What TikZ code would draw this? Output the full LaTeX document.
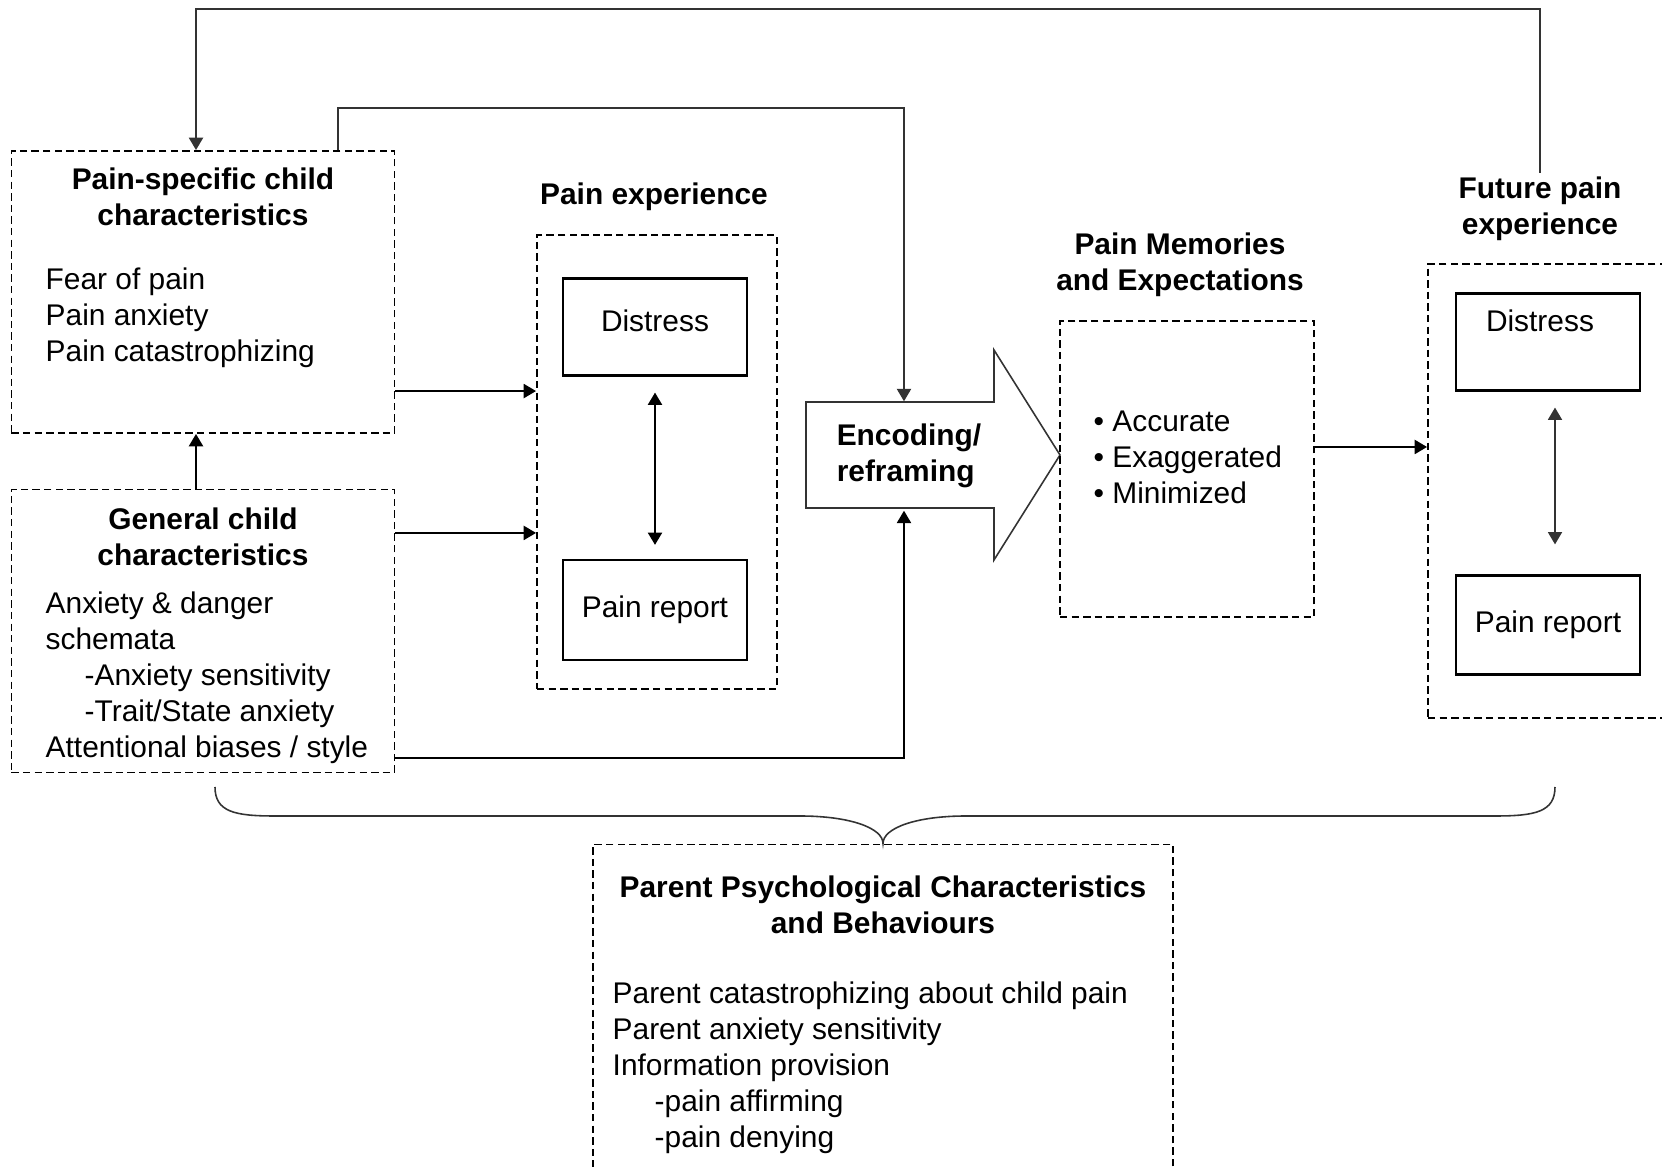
\documentclass[tikz,border=0pt]{standalone}
\usepackage{fontspec}
\setmainfont{Liberation Sans}
\usepackage{tikz}
\usetikzlibrary{arrows.meta}
\newcommand{\figfont}{\fontsize{8.5pt}{10.2pt}\selectfont}

\begin{document}
\begin{tikzpicture}[x=0.01cm, y=-0.01cm, line join=miter,
  dashbox/.style={draw, dash pattern=on 2.1pt off 1.2pt, line width=0.5pt, inner sep=0pt},
  solidbox/.style={draw, line width=0.6pt, inner sep=0pt, font=\figfont, minimum width=1.84cm},
  heading/.style={font={\figfont\bfseries}, align=center, inner sep=1pt},
  itemlist/.style={font=\figfont, align=left, inner sep=0pt, anchor=west},
  thinline/.style={line width=0.45pt, draw=black!80},
  arr/.style={-{Triangle[length=3.5pt,width=4pt]}, line width=0.5pt},
  dblarr/.style={{Triangle[length=3.5pt,width=4pt]}-{Triangle[length=3.5pt,width=4pt]}, line width=0.6pt}]

  \useasboundingbox (0,0) rectangle (1662,1167);
  \clip (0,0) rectangle (1662,1167);

  % Child characteristics (left column)
  \node[dashbox, minimum width=3.83cm, minimum height=2.82cm] (spec) at (203,292) {};
  \node[heading] (spectitle) at (203,197) {Pain-specific child\\characteristics};
  \node[itemlist] (specitems) at (45,318) {Fear of pain\\Pain anxiety\\Pain catastrophizing};

  \node[dashbox, minimum width=3.83cm, minimum height=2.83cm] (gen) at (203,631) {};
  \node[heading] (gentitle) at (203,537) {General child\\characteristics};
  \node[itemlist] (genitems) at (45,678) {Anxiety \& danger\\schemata\\\hspace*{0.39cm}-Anxiety sensitivity\\\hspace*{0.39cm}-Trait/State anxiety\\Attentional biases / style};

  % Pain experience
  \node[heading] (exptitle) at (654,197) {Pain experience};
  \node[dashbox, minimum width=2.40cm, minimum height=4.53cm] (exp) at (657,462) {};
  \node[solidbox, text height=0.535cm, text depth=0.435cm] (dis) at (655,327) {Distress};
  \node[solidbox, minimum height=1.00cm] (rep) at (655,610) {Pain report};

  % Encoding / reframing block arrow
  \draw[thinline] (806,402) -- (994,402) -- (994,350) -- (1060,455) -- (994,560) -- (994,508) -- (806,508) -- cycle;
  \node[heading, align=left, inner sep=0pt, minimum height=1.06cm] (enc) at (904,456) {\hspace*{0.1cm}Encoding/\\\hspace*{0.1cm}reframing};

  % Pain memories
  \node[heading] (memtitle) at (1180,265) {Pain Memories\\and Expectations};
  \node[dashbox, minimum width=2.54cm, minimum height=2.96cm] (mem) at (1187,469) {};
  \node[itemlist] (memitems) at (1093,457) {\textbullet\ Accurate\\\textbullet\ Exaggerated\\\textbullet\ Minimized};

  % Future pain experience
  \node[heading] (futtitle) at (1540,209) {Future pain\\experience};
  \node[dashbox, minimum width=2.52cm, minimum height=4.54cm] (fut) at (1554,491) {};
  \node[solidbox, text height=0.385cm, text depth=0.585cm] (fdis) at (1548,342) {Distress\hspace*{0.16cm}};
  \node[solidbox, minimum height=0.99cm] (frep) at (1548,625) {Pain report};

  % Parent characteristics
  \node[dashbox, minimum width=5.80cm, minimum height=3.45cm] (par) at (883,1017) {};
  \node[heading] (partitle) at (883,905) {Parent Psychological Characteristics\\and Behaviours};
  \node[itemlist] (paritems) at (612,1068) {Parent catastrophizing about child pain\\Parent anxiety sensitivity\\Information provision\\\hspace*{0.42cm}-pain affirming\\\hspace*{0.42cm}-pain denying};

  % Feedback loops over the top
  \coordinate (toploop) at (196,9);
  \coordinate (midloop) at (338,108);
  \draw[thinline, arr] (futtitle.north) |- (toploop) -- (toploop |- spec.north);
  \draw[thinline, arr] (midloop |- spec.north) -- (midloop) -| ([yshift=0.01cm]enc.north);

  % Arrows between boxes
  \draw[arr] ([xshift=-0.07cm]gen.north) -- ([xshift=-0.07cm]spec.south);
  \draw[arr] ([yshift=-0.99cm]spec.east) -- ([yshift=-0.99cm]spec.east -| exp.west);
  \draw[arr] ([yshift=0.98cm]gen.east) -- ([yshift=0.98cm]gen.east -| exp.west);
  \draw[arr] ([yshift=-1.27cm]gen.east) -| ([yshift=-0.01cm]enc.south);
  \draw[dblarr, shorten <=0.16cm, shorten >=0.14cm] (dis.south) -- (rep.north);
  \draw[arr] ([yshift=0.22cm]mem.east) -- ([yshift=0.22cm]mem.east -| fut.west);
  \draw[dblarr, thinline, shorten <=0.16cm, shorten >=0.30cm] ([xshift=0.07cm]fdis.south) -- ([xshift=0.07cm]fdis.south |- frep.north);

  % Brace down to the parent box
  \coordinate (braceL) at (215,787);
  \coordinate (braceR) at (1555,787);
  \draw[thinline] (braceL) .. controls (215,812) and (235,816) .. (275,816) -- (800,816)
    .. controls (850,816) and (883,828) .. (par.north)
    .. controls (883,828) and (916,816) .. (966,816) -- (1495,816)
    .. controls (1535,816) and (1555,812) .. (braceR);

\end{tikzpicture}
\end{document}
